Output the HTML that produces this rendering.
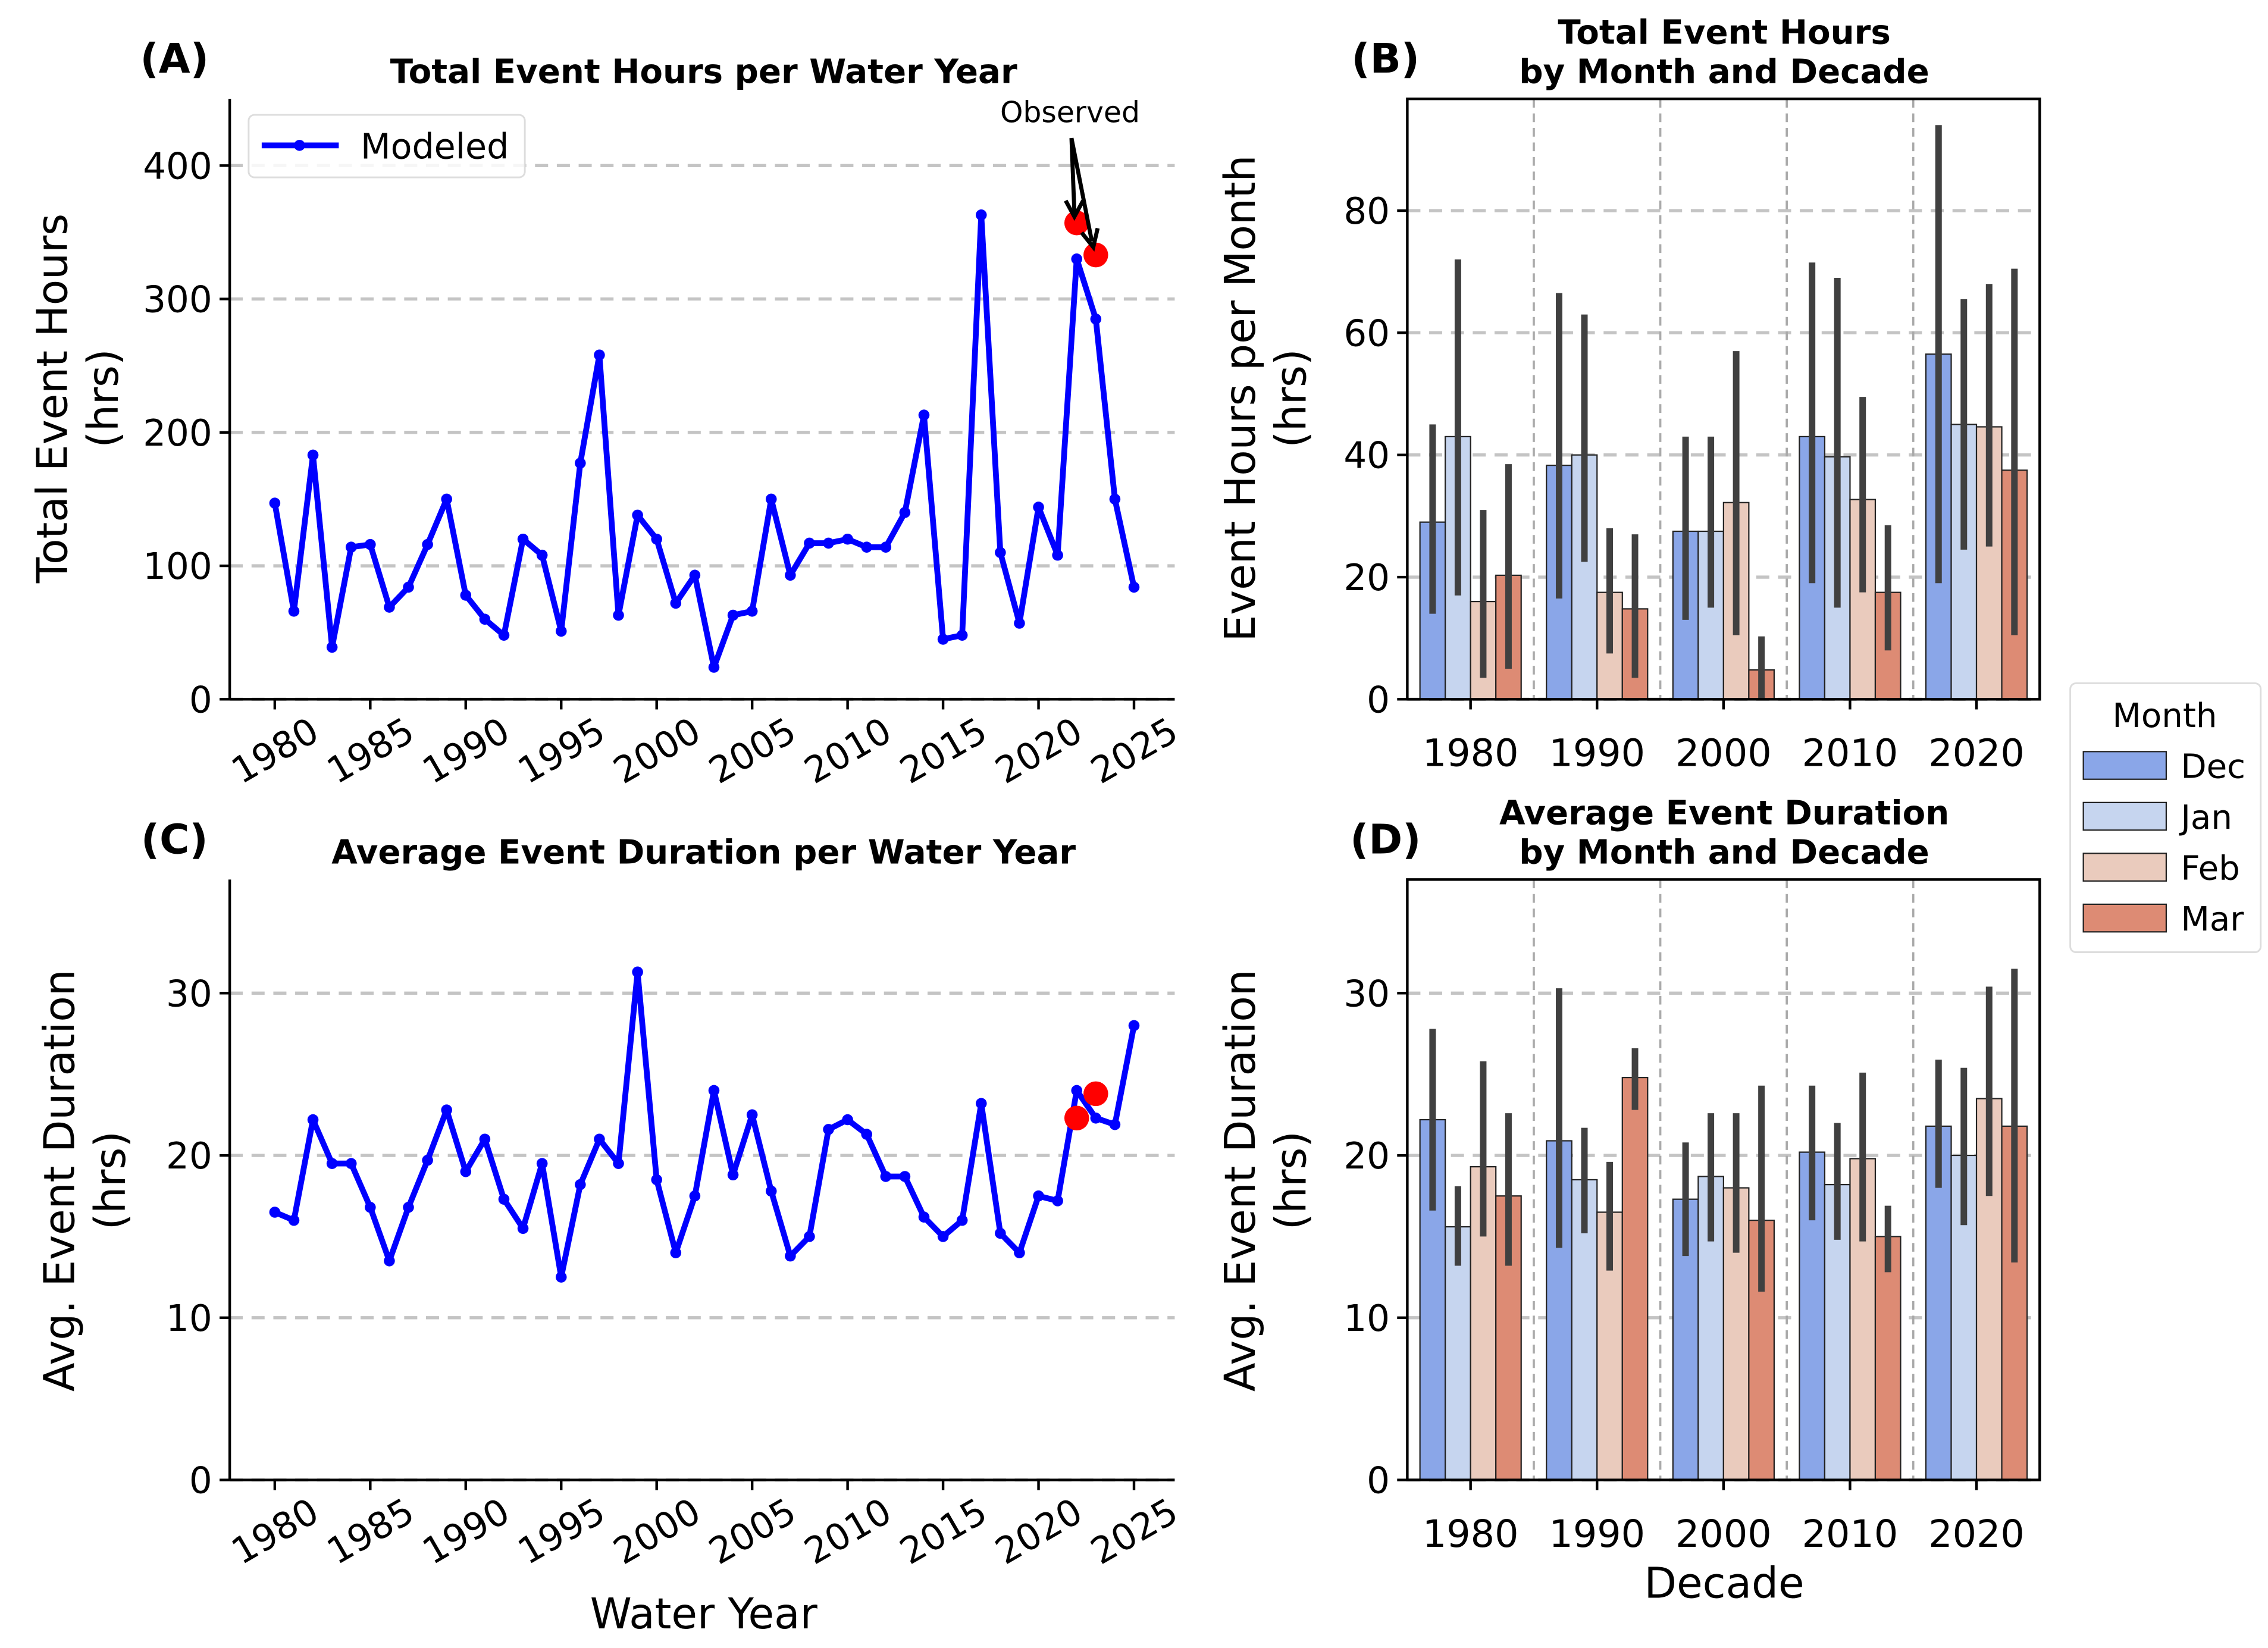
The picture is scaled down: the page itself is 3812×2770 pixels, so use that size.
<!DOCTYPE html>
<html><head><meta charset="utf-8"><style>body{margin:0;background:#fff}svg{display:block}text{font-family:"DejaVu Sans","Liberation Sans",sans-serif}</style></head>
<body>
<svg id="fig" xmlns="http://www.w3.org/2000/svg" width="3812" height="2770" viewBox="0 0 1560 1133.6">
<rect width="1560" height="1133.6" fill="#fff"/>
</svg>
<script>
const years = Array.from({length:46},(_,i)=>1980+i);
const totalHours = [147,66,183,39,114,116,69,84,116,150,78,60,48,120,108,51,177,258,63,138,120,72,93,24,63,66,150,93,117,117,120,114,114,140,213,45,48,363,110,57,144,108,330,285,150,84];
const obsYears = [2022,2023];
const obsHours = [357,333];
const avgDur = [16.5,16,22.2,19.5,19.5,16.8,13.5,16.8,19.7,22.8,19,21,17.3,15.5,19.5,12.5,18.2,21,19.5,31.3,18.5,14,17.5,24,18.8,22.5,17.8,13.8,15,21.6,22.2,21.3,18.7,18.7,16.2,15,16,23.2,15.2,14,17.5,17.2,24,22.3,21.9,28];
const obsDur = [22.3,23.8];
const decades = ["1980","1990","2000","2010","2020"];
const months = ["Dec","Jan","Feb","Mar"];
const monthColors = ["#8aa6e8","#c6d5ef","#eacbbd","#dd8b74"];
const bMean = [[29,43,16,20.3],[38.3,40,17.5,14.8],[27.5,27.5,32.2,4.8],[43,39.7,32.7,17.5],[56.5,45,44.6,37.5]];
const bLo = [[14,17,3.5,5],[16.5,22.5,7.5,3.5],[13,15,10.5,0],[19,15,17.5,8],[19,24.5,25,10.5]];
const bHi = [[45,72,31,38.5],[66.5,63,28,27],[43,43,57,10.3],[71.5,69,49.5,28.5],[94,65.5,68,70.5]];
const dMean = [[22.2,15.6,19.3,17.5],[20.9,18.5,16.5,24.8],[17.3,18.7,18,16],[20.2,18.2,19.8,15],[21.8,20,23.5,21.8]];
const dLo = [[16.6,13.2,15,13.2],[14.3,15.2,12.9,22.8],[13.8,14.7,14,11.6],[16,14.8,14.7,12.8],[18,15.7,17.5,13.4]];
const dHi = [[27.8,18.1,25.8,22.6],[30.3,21.7,19.6,26.6],[20.8,22.6,22.6,24.3],[24.3,22,25.1,16.9],[25.9,25.4,30.4,31.5]];
const aTicks=[0,100,200,300,400], cTicks=[0,10,20,30], bTicks=[0,20,40,60,80], dTicks=[0,10,20,30];
const yearTicks=[1980,1985,1990,1995,2000,2005,2010,2015,2020,2025];

const svg=document.getElementById('fig');
const NS="http://www.w3.org/2000/svg";
function el(tag,attrs,parent,txt){const e=document.createElementNS(NS,tag);for(const k in attrs)e.setAttribute(k,attrs[k]);if(txt!==undefined)e.textContent=txt;(parent||svg).appendChild(e);return e;}
function grp(name){const g=el('g',{},svg);return g;}

function yAxis(g,L,R,scale,ticks,grid){
  ticks.forEach(t=>{const y=scale(t);
    if(grid){const l=el('line',{x1:L,x2:R,y1:y,y2:y,stroke:'#c4c4c4','stroke-width':2.2,'stroke-dasharray':'9,6'},g);}
    el('line',{x1:L-7,x2:L,y1:y,y2:y,stroke:'#000','stroke-width':1.8},g);
    const tx=el('text',{x:L-12,y:y+9,'text-anchor':'end','font-size':25},g,String(t));
  });
}

function linePanel(name,T,B,yMax,vals,obs,ticks){
  const L=158,R=808;const g=grp(name);
  const xs=v=>189+(v-1980)*(780-189)/45;
  const ys=v=>B-(v/yMax)*(B-T);
  yAxis(g,L,R,ys,ticks,true);
  yearTicks.forEach(t=>{const x=xs(t);el('line',{x1:x,x2:x,y1:B,y2:B+7,stroke:'#000','stroke-width':1.8},g);
    const tx=el('text',{x:x,y:B+44,'text-anchor':'middle','font-size':25,transform:`rotate(-30 ${x} ${B+35})`},g,String(t));});
  el('line',{x1:L,x2:L,y1:T,y2:B,stroke:'#000','stroke-width':1.8},g);
  el('line',{x1:L,x2:R,y1:B,y2:B,stroke:'#000','stroke-width':1.8},g);
  const p=el('polyline',{points:vals.map((v,i)=>xs(years[i])+','+ys(v)).join(' '),fill:'none',stroke:'#0000ff','stroke-width':4,'stroke-linejoin':'round'},g);
  
  vals.forEach((v,i)=>{const c=el('circle',{cx:xs(years[i]),cy:ys(v),r:3.8,fill:'#0000ff'},g);});
  obs.forEach((v,i)=>{const c=el('circle',{cx:xs(obsYears[i]),cy:ys(v),r:8.5,fill:'#ff0000'},g);});
  return {xs,ys,g};
}

function barPanel(name,T,B,yMax,mean,lo,hi,ticks){
  const L=968,R=1403;const g=grp(name);
  const ys=v=>B-(v/yMax)*(B-T);
  const step=(R-L)/5;const cx=i=>L+step*(i+0.5);const bw=step*0.8/4;
  yAxis(g,L,R,ys,ticks,true);
  for(let i=1;i<5;i++){const x=L+step*i;const l=el('line',{x1:x,x2:x,y1:T,y2:B,stroke:'#aaa','stroke-width':1.5,'stroke-dasharray':'6,4'},g);}
  decades.forEach((d,i)=>{
    months.forEach((m,j)=>{const x=cx(i)-step*0.4+j*bw;
      const r=el('rect',{x:x,y:ys(mean[i][j]),width:bw,height:B-ys(mean[i][j]),fill:monthColors[j],stroke:'#222','stroke-width':0.9},g);
      
      const e=el('line',{x1:x+bw/2,x2:x+bw/2,y1:ys(lo[i][j]),y2:ys(hi[i][j]),stroke:'#404040','stroke-width':4.5},g);
      });
    el('line',{x1:cx(i),x2:cx(i),y1:B,y2:B+7,stroke:'#000','stroke-width':1.8},g);
    const tx=el('text',{x:cx(i),y:B+46,'text-anchor':'middle','font-size':26},g,d);
  });
  el('rect',{x:L,y:T,width:R-L,height:B-T,fill:'none',stroke:'#000','stroke-width':1.8},g);
}

function label(txt,x,y,size,opts,name){const t=el('text',Object.assign({x:x,y:y,'font-size':size,'text-anchor':'middle'},opts||{}),svg,txt);return t;}

const A=linePanel('panel-a-total-hours',68,481,450,totalHours,obsHours,aTicks);
const C=linePanel('panel-c-avg-duration',605,1018,37,avgDur,obsDur,cTicks);
barPanel('panel-b-hours-by-month',68,481,98.3,bMean,bLo,bHi,bTicks);
barPanel('panel-d-duration-by-month',605,1018,37,dMean,dLo,dHi,dTicks);

// legend A
const lg=grp('modeled-legend');
el('rect',{x:171,y:79,width:190,height:43,rx:4,fill:'#fff','fill-opacity':0.85,stroke:'#ddd','stroke-width':1.2},lg);
el('line',{x1:180,x2:233,y1:100,y2:100,stroke:'#0000ff','stroke-width':4},lg);
el('circle',{cx:206,cy:100,r:3.8,fill:'#0000ff'},lg);
el('text',{x:248,y:109,'font-size':24},lg,'Modeled');
// annotation
const an=grp('observed-annotation');
el('text',{x:736,y:84,'font-size':20,'text-anchor':'middle'},an,'Observed');
el('line',{x1:737,y1:95,x2:739,y2:146,stroke:'#000','stroke-width':2.8},an);
el('line',{x1:737,y1:95,x2:751,y2:166,stroke:'#000','stroke-width':2.8},an);
el('path',{d:'M733,138 L739,149 L745,138',fill:'none',stroke:'#000','stroke-width':2.8},an);
el('path',{d:'M744,160 L752,170 L755,157',fill:'none',stroke:'#000','stroke-width':2.8},an);

// titles
label('Total Event Hours per Water Year',484,57,23,{'font-weight':'bold'},'panel-a-title');
label('Average Event Duration per Water Year',484,594,23,{'font-weight':'bold'},'panel-c-title');
label('Total Event Hours',1186,30,23,{'font-weight':'bold'},'panel-b-title');
label('by Month and Decade',1186,57,23,{'font-weight':'bold'},'panel-b-title-2');
label('Average Event Duration',1186,567,23,{'font-weight':'bold'},'panel-d-title');
label('by Month and Decade',1186,594,23,{'font-weight':'bold'},'panel-d-title-2');
label('(A)',120,50,28,{'font-weight':'bold'},'panel-a-letter');
label('(B)',953,50,28,{'font-weight':'bold'},'panel-b-letter');
label('(C)',120,587,28,{'font-weight':'bold'},'panel-c-letter');
label('(D)',953,587,28,{'font-weight':'bold'},'panel-d-letter');
// axis labels
function ylab(l1,l2,x,y,name){label(l1,0,0,29,{transform:`translate(${x} ${y}) rotate(-90)`},name);label(l2,0,0,29,{transform:`translate(${x+35} ${y}) rotate(-90)`},name+'-unit');}
ylab('Total Event Hours','(hrs)',46,274,'y-axis-title-a');
ylab('Event Hours per Month','(hrs)',863,274,'y-axis-title-b');
ylab('Avg. Event Duration','(hrs)',51,812,'y-axis-title-c');
ylab('Avg. Event Duration','(hrs)',863,812,'y-axis-title-d');
label('Water Year',484,1120,29,{},'x-axis-title-c');
label('Decade',1186,1099,29,{},'x-axis-title-d');
// month legend
const ml=grp('month-legend');
el('rect',{x:1424,y:470,width:131,height:185,rx:4,fill:'#fff',stroke:'#ddd','stroke-width':1.2},ml);
el('text',{x:1489,y:500,'font-size':23,'text-anchor':'middle'},ml,'Month');
months.forEach((m,j)=>{const y=517+j*35;
  const r=el('rect',{x:1433,y:y,width:57,height:19,fill:monthColors[j],stroke:'#222','stroke-width':0.9},ml);
  const t=el('text',{x:1500,y:y+18,'font-size':23},ml,m);});
</script>
</body></html>
